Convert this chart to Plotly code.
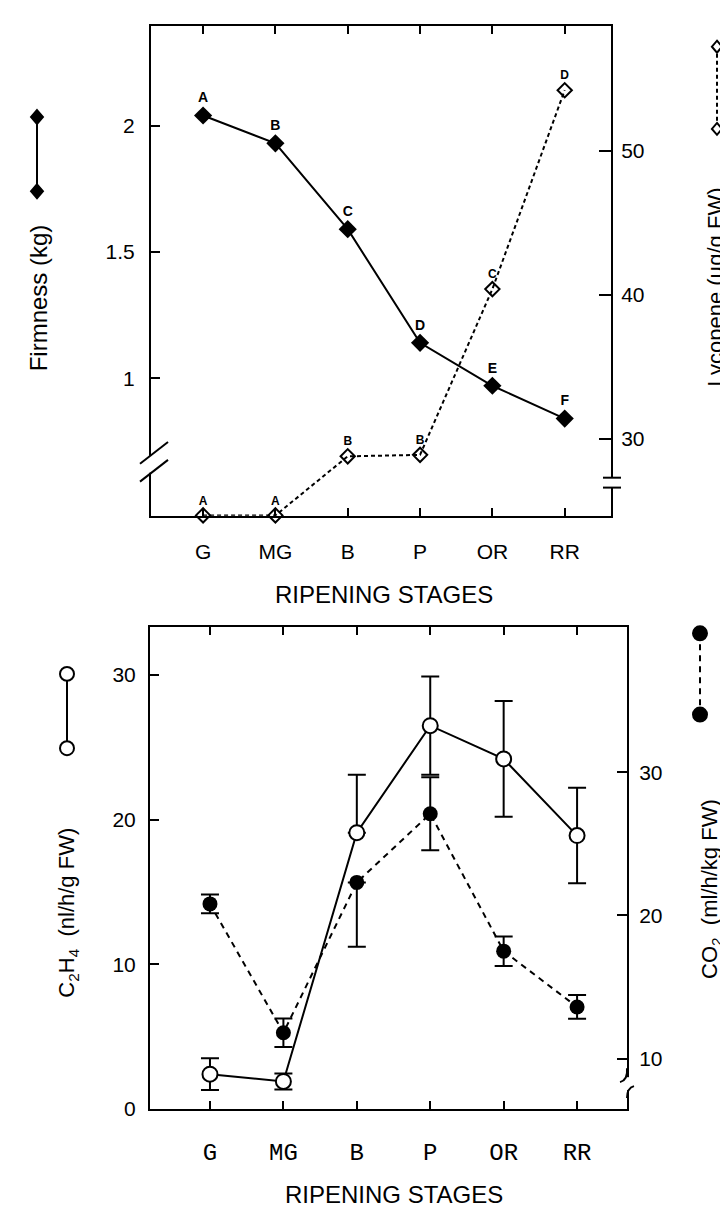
import plotly.graph_objects as go

# ---------------- data ----------------
stages = ["G", "MG", "B", "P", "OR", "RR"]

firmness = [2.04, 1.93, 1.59, 1.14, 0.97, 0.84]
firmness_letters = ["A", "B", "C", "D", "E", "F"]

lycopene = [24.7, 24.7, 28.8, 28.9, 40.4, 54.2]
lycopene_letters = ["A", "A", "B", "B", "C", "D"]

c2h4 = [2.4, 1.9, 19.1, 26.5, 24.2, 18.9]
c2h4_err_plus = [1.1, 0.55, 4.0, 3.4, 4.0, 3.3]
c2h4_err_minus = [1.1, 0.55, 0.0, 3.4, 4.0, 3.3]

co2 = [20.8, 11.8, 22.3, 27.1, 17.5, 13.6]
co2_err_plus = [0.65, 1.0, 0.0, 2.55, 1.03, 0.83]
co2_err_minus = [0.65, 1.0, 4.5, 2.55, 1.03, 0.83]

firm_ticks = [1, 1.5, 2]
firm_ticktext = ["1", "1.5", "2"]
lyc_ticks = [30, 40, 50]
c2h4_ticks = [0, 10, 20, 30]
co2_ticks = [10, 20, 30]

W, H = 728, 1210
SANS = "Liberation Sans, Arial, sans-serif"
MONO = "Liberation Mono, Courier New, monospace"


def px(x):
    return x / W


def py(y):
    return 1 - y / H


fig = go.Figure()

# ---------------- top panel ----------------
fig.add_trace(go.Scatter(
    x=stages, y=lycopene, xaxis="x", yaxis="y2",
    mode="lines+markers+text", text=lycopene_letters, textposition="top center",
    textfont=dict(family=SANS, size=12, color="black", weight="bold"),
    line=dict(color="black", width=2, dash="4px,3px"),
    marker=dict(symbol="diamond-open", size=11, color="black", line=dict(width=2)),
    cliponaxis=False, showlegend=False))

fig.add_trace(go.Scatter(
    x=stages, y=firmness, xaxis="x", yaxis="y",
    mode="lines+markers+text", text=firmness_letters, textposition="top center",
    textfont=dict(family=SANS, size=14, color="black", weight="bold"),
    line=dict(color="black", width=2),
    marker=dict(symbol="diamond", size=14, color="black"),
    cliponaxis=False, showlegend=False))

# ---------------- bottom panel ----------------
fig.add_trace(go.Scatter(
    x=stages, y=c2h4, xaxis="x2", yaxis="y3",
    mode="lines+markers",
    line=dict(color="black", width=2),
    marker=dict(symbol="circle", size=15, color="white", line=dict(color="black", width=2)),
    error_y=dict(type="data", symmetric=False, array=c2h4_err_plus,
                 arrayminus=c2h4_err_minus, color="black", thickness=2, width=9),
    cliponaxis=False, showlegend=False))

fig.add_trace(go.Scatter(
    x=stages, y=co2, xaxis="x2", yaxis="y4",
    mode="lines+markers",
    line=dict(color="black", width=2, dash="6px,5px"),
    marker=dict(symbol="circle", size=15, color="black"),
    error_y=dict(type="data", symmetric=False, array=co2_err_plus,
                 arrayminus=co2_err_minus, color="black", thickness=2, width=9),
    cliponaxis=False, showlegend=False))

xcommon = dict(type="category", showline=True, linecolor="black", linewidth=2,
               mirror="ticks", ticks="inside", ticklen=8, tickwidth=2, tickcolor="black",
               showgrid=False, zeroline=False)
ycommon = dict(showline=True, linecolor="black", linewidth=2, ticks="inside",
               tickwidth=2, tickcolor="black", showgrid=False, zeroline=False,
               tickfont=dict(family=SANS, size=21, color="black"))

fig.update_layout(
    width=W, height=H, margin=dict(l=0, r=0, t=0, b=0),
    paper_bgcolor="white", plot_bgcolor="white",
    xaxis=dict(xcommon, domain=[px(143), px(603)], range=[-0.72, 5.64], anchor="y",
               tickfont=dict(family=SANS, size=21, color="black"), ticklabelstandoff=16),
    yaxis=dict(ycommon, domain=[py(512.5), py(18.5)], range=[0.455, 2.393], anchor="x",
               tickvals=firm_ticks, ticktext=firm_ticktext, ticklen=9,
               ticklabelstandoff=10),
    yaxis2=dict(ycommon, overlaying="y", side="right", range=[24.67, 58.63], anchor="x",
                tickvals=lyc_ticks, ticklen=12, ticklabelstandoff=4),
    xaxis2=dict(xcommon, domain=[px(142), px(619)], range=[-0.817, 5.68], anchor="y3",
                tickfont=dict(family=MONO, size=24, color="black"), ticklabelstandoff=20),
    yaxis3=dict(ycommon, domain=[py(1111), py(625)], range=[0, 33.3], anchor="x2",
                tickvals=c2h4_ticks, ticklen=9, ticklabelstandoff=8),
    yaxis4=dict(ycommon, overlaying="y3", side="right", range=[6.48, 40.12], anchor="x2",
                tickvals=co2_ticks, ticklen=10, ticklabelstandoff=6),
)

# ---------------- axis titles ----------------
ann = []
ann.append(dict(text="Firmness (kg)", x=px(30), y=py(293), textangle=-90,
                font=dict(family=SANS, size=24, color="black")))
ann.append(dict(text="Lycopene (\u00b5g/g FW)", x=px(707), y=py(282), textangle=-90,
                font=dict(family=SANS, size=22, color="black")))
ann.append(dict(text="RIPENING STAGES", x=px(376), y=py(592),
                font=dict(family=SANS, size=24, color="black")))
ann.append(dict(text="C<sub>2</sub>H<sub>4</sub>  (nl/h/g FW)", x=px(60), y=py(913),
                textangle=-90, font=dict(family=SANS, size=22, color="black")))
ann.append(dict(text="CO<sub>2</sub>  (ml/h/kg FW)", x=px(703), y=py(889),
                textangle=-90, font=dict(family=SANS, size=22, color="black")))
ann.append(dict(text="RIPENING STAGES", x=px(386), y=py(1197),
                font=dict(family=SANS, size=24, color="black")))
for a in ann:
    a.update(xref="paper", yref="paper", showarrow=False, xanchor="center", yanchor="middle")
fig.update_layout(annotations=ann)

# ---------------- decorations: axis breaks & legend keys ----------------
shapes = []


def line(x0, y0, x1, y1, dash="solid", w=2):
    shapes.append(dict(type="line", xref="paper", yref="paper",
                       x0=px(x0), y0=py(y0), x1=px(x1), y1=py(y1),
                       line=dict(color="black", width=w, dash=dash), layer="above"))


def white(x0, y0, x1, y1):
    shapes.append(dict(type="rect", xref="paper", yref="paper",
                       x0=px(x0), y0=py(y0), x1=px(x1), y1=py(y1),
                       fillcolor="white", line=dict(width=0), layer="above"))


def diamond(x, y, r, filled):
    path = "M {} {} L {} {} L {} {} L {} {} Z".format(
        px(x), py(y - r), px(x + r * 0.85), py(y), px(x), py(y + r), px(x - r * 0.85), py(y))
    shapes.append(dict(type="path", xref="paper", yref="paper", path=path,
                       fillcolor="black" if filled else "white",
                       line=dict(color="black", width=2), layer="above"))


def circle(x, y, r, filled):
    shapes.append(dict(type="circle", xref="paper", yref="paper",
                       x0=px(x - r), x1=px(x + r), y0=py(y + r), y1=py(y - r),
                       fillcolor="black" if filled else "white",
                       line=dict(color="black", width=2), layer="above"))


# top-left axis break
white(138, 452, 148, 469)
line(132, 460, 160, 438)
line(132, 478, 160, 456)
# top-right axis break
white(598, 474, 608, 484)
line(595, 474, 613, 474)
line(595, 484, 613, 484)
# bottom-right axis break
white(614, 1079, 624, 1092)
shapes.append(dict(type="path", xref="paper", yref="paper", layer="above",
                   path="M {} {} Q {} {} {} {}".format(px(619), py(1070), px(620), py(1082), px(612), py(1084)),
                   line=dict(color="black", width=2)))
shapes.append(dict(type="path", xref="paper", yref="paper", layer="above",
                   path="M {} {} Q {} {} {} {}".format(px(626), py(1088), px(619), py(1090), px(619), py(1100)),
                   line=dict(color="black", width=2)))

# legend keys
line(29, 110, 29, 185)
diamond(29, 110, 7, True)
diamond(29, 185, 7, True)

line(709, 39, 709, 122, dash="4px,3px")
diamond(709, 39, 6, False)
diamond(709, 122, 6, False)

line(59, 672, 59, 747)
circle(59, 672, 7, False)
circle(59, 747, 7, False)

line(692, 631, 692, 713, dash="6px,5px")
circle(692, 631, 7, True)
circle(692, 713, 7, True)

fig.update_layout(shapes=shapes)

fig.write_html("out.html")
